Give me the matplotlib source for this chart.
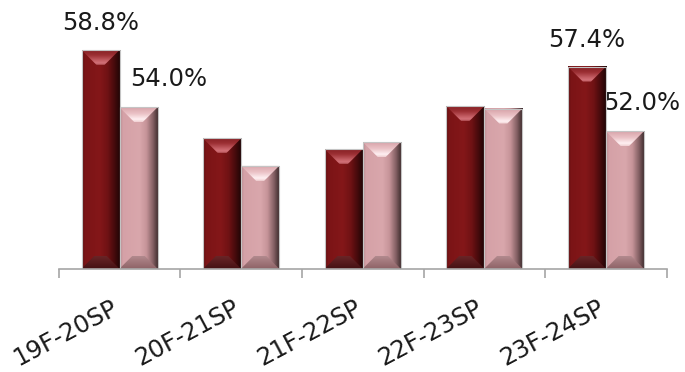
import numpy as np
import matplotlib
matplotlib.use("Agg")
import matplotlib.pyplot as plt
import matplotlib.transforms as mtransforms
from matplotlib.colors import LinearSegmentedColormap
from matplotlib.patches import Polygon, Rectangle

# ---- data ----
categories = ["19F-20SP", "20F-21SP", "21F-22SP", "22F-23SP", "23F-24SP"]
series_a = [58.8, 51.4, 50.5, 54.1, 57.4]   # dark red bars
series_b = [54.0, 49.1, 51.1, 53.9, 52.0]   # pink bars
labelled_groups = [0, 4]                    # groups that carry value labels

AXIS_MIN, AXIS_MAX = 40.5, 62.0

plt.rcParams["font.family"] = ["DejaVu Sans"]

fig = plt.figure(figsize=(6.85, 3.72), dpi=100)
ax = fig.add_axes([0.0857, 0.2777, 0.8876, 0.6909])

STYLES = {
    "dark": dict(
        body=[(0.0, "#5a0d0f"), (0.07, "#7b1416"), (0.45, "#841719"),
              (0.66, "#701214"), (0.84, "#450a0c"), (1.0, "#1c0405")],
        top=[(0.0, "#862024"), (0.35, "#9c3034"), (0.70, "#c45e64"),
             (0.88, "#d4737a"), (1.0, "#a8454a")],
        bottom=[(0.0, "#6a2527"), (0.5, "#571b1d"), (1.0, "#441113")],
    ),
    "pink": dict(
        body=[(0.0, "#b78a8e"), (0.07, "#d5a1a7"), (0.50, "#d9a7ac"),
              (0.68, "#c69499"), (0.85, "#846064"), (1.0, "#382829")],
        top=[(0.0, "#d8a3a9"), (0.45, "#ebc3c7"), (0.82, "#fff0f2"), (1.0, "#f0cfd2")],
        bottom=[(0.0, "#b28a8e"), (0.5, "#a07579"), (1.0, "#8d6367")],
    ),
}

x = np.arange(len(categories))
w = 0.3125
vals_a = np.array(series_a)
vals_b = np.array(series_b)
bars_a = ax.bar(x - w / 2, vals_a - AXIS_MIN, w, bottom=AXIS_MIN,
                color=STYLES["dark"]["top"][0][1], edgecolor="none", zorder=1)
bars_b = ax.bar(x + w / 2, vals_b - AXIS_MIN, w, bottom=AXIS_MIN,
                color=STYLES["pink"]["top"][0][1], edgecolor="none", zorder=1)

ax.set_xlim(-0.5, len(categories) - 0.5)
ax.set_ylim(AXIS_MIN, AXIS_MAX)


def ramp(stops, n=96):
    cmap = LinearSegmentedColormap.from_list("r", stops)
    return cmap(np.linspace(0, 1, n))[:, :3]


fig.canvas.draw()
bb = ax.get_window_extent()
px_x = (ax.get_xlim()[1] - ax.get_xlim()[0]) / bb.width
px_y = (ax.get_ylim()[1] - ax.get_ylim()[0]) / bb.height
DEPTH_TOP = 15.0     # bevel depth in pixels
DEPTH_BOTTOM = 13.0


def shade_bar(rect, style):
    x0, y0 = rect.get_x(), rect.get_y()
    x1, y1 = x0 + rect.get_width(), y0 + rect.get_height()
    st = STYLES[style]

    body = ramp(st["body"])[None, :, :]
    ax.imshow(body, extent=(x0, x1, y0, y1), aspect="auto",
              interpolation="bilinear", zorder=2)

    dx, dy = DEPTH_TOP * px_x, DEPTH_TOP * px_y
    top = ramp(st["top"])[:, None, :]
    poly_t = Polygon([(x0, y1), (x1, y1), (x1 - dx, y1 - dy), (x0 + dx, y1 - dy)],
                     closed=True, transform=ax.transData, facecolor="none", edgecolor="none")
    ax.add_patch(poly_t)
    im = ax.imshow(top, extent=(x0, x1, y1 - dy, y1), aspect="auto",
                   interpolation="bilinear", origin="upper", zorder=3)
    im.set_clip_path(poly_t)

    dx, dy = DEPTH_BOTTOM * px_x, DEPTH_BOTTOM * px_y
    bot = ramp(st["bottom"])[:, None, :]
    poly_b = Polygon([(x0, y0), (x1, y0), (x1 - dx, y0 + dy), (x0 + dx, y0 + dy)],
                     closed=True, transform=ax.transData, facecolor="none", edgecolor="none")
    ax.add_patch(poly_b)
    im = ax.imshow(bot, extent=(x0, x1, y0, y0 + dy), aspect="auto",
                   interpolation="bilinear", origin="upper", zorder=3)
    im.set_clip_path(poly_b)

    ax.add_patch(Rectangle((x0, y0), x1 - x0, y1 - y0, facecolor="none",
                           edgecolor="#c4c4c4", linewidth=0.8, zorder=4))


for r in bars_a:
    shade_bar(r, "dark")
for r in bars_b:
    shade_bar(r, "pink")

ax.set_xlim(-0.5, len(categories) - 0.5)
ax.set_ylim(AXIS_MIN, AXIS_MAX)

# value labels
label_kw = dict(textcoords="offset pixels", ha="center", va="center",
                fontsize=17.5, color="#1a1a1a", annotation_clip=False)
for i in labelled_groups:
    ra, rb = bars_a[i], bars_b[i]
    ax.annotate(f"{vals_a[i]:.1f}%", (ra.get_x() + ra.get_width() / 2, vals_a[i]),
                xytext=(0, 27), **label_kw)
    shift = 30 if i == 0 else 17
    ax.annotate(f"{vals_b[i]:.1f}%", (rb.get_x() + rb.get_width() / 2, vals_b[i]),
                xytext=(shift, 28), **label_kw)

# axes styling
for s in ("top", "right", "left"):
    ax.spines[s].set_visible(False)
ax.spines["bottom"].set_color("#a6a6a6")
ax.spines["bottom"].set_linewidth(1.2)
ax.spines["bottom"].set_zorder(5)
ax.set_yticks([])
ax.set_xticks(x)
ax.set_xticklabels(categories, rotation=28, ha="right", va="baseline",
                   rotation_mode="anchor", fontsize=17.5, color="#1a1a1a")
shift_left = mtransforms.ScaledTranslation(-3 / 100, 0, fig.dpi_scale_trans)
for lbl in ax.get_xticklabels():
    lbl.set_transform(lbl.get_transform() + shift_left)
ax.set_xticks(np.arange(-0.5, len(categories)), minor=True)
ax.tick_params(axis="x", which="major", length=0, pad=31.5)
ax.tick_params(axis="x", which="minor", length=6.2, width=1.2, color="#a6a6a6",
               direction="out")

fig.savefig("out.png", dpi=100)
